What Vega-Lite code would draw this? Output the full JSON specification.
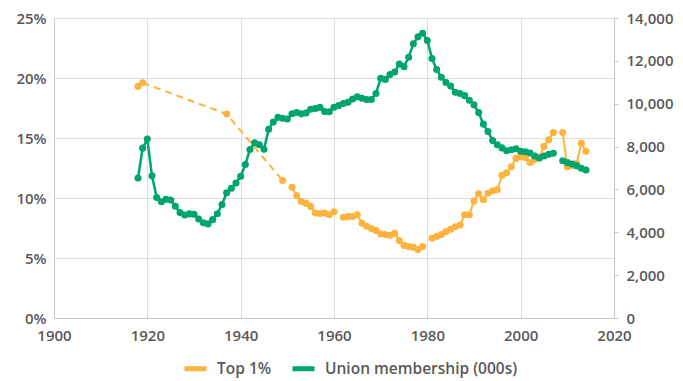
{
  "$schema": "https://vega.github.io/schema/vega-lite/v6.json",
  "width": 560,
  "height": 300,
  "autosize": {"type": "none"},
  "padding": {"left": 54, "top": 18, "right": 69, "bottom": 63},
  "background": "white",
  "config": {
    "view": {"stroke": null},
    "font": "Open Sans",
    "axis": {
      "labelFont": "Open Sans",
      "labelFontSize": 15,
      "labelFontWeight": 600,
      "labelColor": "#595959",
      "labelFlush": false,
      "labelOverlap": false,
      "domainColor": "#c8c8c8",
      "gridColor": "#dcdcdc",
      "gridWidth": 1,
      "tickColor": "#c8c8c8",
      "title": null
    },
    "legend": {
      "labelFont": "Open Sans",
      "labelFontSize": 15.5,
      "labelFontWeight": 600,
      "labelColor": "#595959",
      "labelLimit": 0
    }
  },
  "datasets": {
    "main": [
      {"year": 1918, "top1": 19.3, "union": 6533},
      {"year": 1919, "top1": 19.6, "union": 7926},
      {"year": 1920, "union": 8348},
      {"year": 1921, "union": 6633},
      {"year": 1922, "union": 5625},
      {"year": 1923, "union": 5429},
      {"year": 1924, "union": 5544},
      {"year": 1925, "union": 5506},
      {"year": 1926, "union": 5219},
      {"year": 1927, "union": 4919},
      {"year": 1928, "union": 4806},
      {"year": 1929, "union": 4858},
      {"year": 1930, "union": 4842},
      {"year": 1931, "union": 4624},
      {"year": 1932, "union": 4444},
      {"year": 1933, "union": 4392},
      {"year": 1934, "union": 4590},
      {"year": 1935, "union": 4867},
      {"year": 1936, "union": 5295},
      {"year": 1937, "top1": 17.0, "union": 5842},
      {"year": 1938, "union": 6053},
      {"year": 1939, "union": 6298},
      {"year": 1940, "union": 6613},
      {"year": 1941, "union": 7165},
      {"year": 1942, "union": 7867},
      {"year": 1943, "union": 8174},
      {"year": 1944, "union": 8087},
      {"year": 1945, "union": 7875},
      {"year": 1946, "union": 8803},
      {"year": 1947, "union": 9145},
      {"year": 1948, "union": 9363},
      {"year": 1949, "top1": 11.45, "union": 9318},
      {"year": 1950, "union": 9289},
      {"year": 1951, "top1": 10.9, "union": 9535},
      {"year": 1952, "top1": 10.2, "union": 9588},
      {"year": 1953, "top1": 9.7, "union": 9527},
      {"year": 1954, "top1": 9.55, "union": 9566},
      {"year": 1955, "top1": 9.3, "union": 9741},
      {"year": 1956, "top1": 8.75, "union": 9778},
      {"year": 1957, "top1": 8.7, "union": 9829},
      {"year": 1958, "top1": 8.75, "union": 9639},
      {"year": 1959, "top1": 8.6, "union": 9623},
      {"year": 1960, "top1": 8.85, "union": 9835},
      {"year": 1961, "union": 9916},
      {"year": 1962, "top1": 8.4, "union": 10014},
      {"year": 1963, "top1": 8.45, "union": 10067},
      {"year": 1964, "top1": 8.45, "union": 10218},
      {"year": 1965, "top1": 8.6, "union": 10325},
      {"year": 1966, "top1": 7.9, "union": 10259},
      {"year": 1967, "top1": 7.65, "union": 10194},
      {"year": 1968, "top1": 7.45, "union": 10200},
      {"year": 1969, "top1": 7.3, "union": 10479},
      {"year": 1970, "top1": 7.0, "union": 11187},
      {"year": 1971, "top1": 6.95, "union": 11135},
      {"year": 1972, "top1": 6.9, "union": 11359},
      {"year": 1973, "top1": 7.05, "union": 11480},
      {"year": 1974, "top1": 6.45, "union": 11850},
      {"year": 1975, "top1": 6.05, "union": 11730},
      {"year": 1976, "top1": 5.95, "union": 12170},
      {"year": 1977, "top1": 5.9, "union": 12800},
      {"year": 1978, "top1": 5.7, "union": 13120},
      {"year": 1979, "top1": 5.95, "union": 13289},
      {"year": 1980, "union": 12947},
      {"year": 1981, "top1": 6.65, "union": 12106},
      {"year": 1982, "top1": 6.8, "union": 11593},
      {"year": 1983, "top1": 6.95, "union": 11236},
      {"year": 1984, "top1": 7.2, "union": 10994},
      {"year": 1985, "top1": 7.4, "union": 10821},
      {"year": 1986, "top1": 7.6, "union": 10539},
      {"year": 1987, "top1": 7.75, "union": 10475},
      {"year": 1988, "top1": 8.6, "union": 10376},
      {"year": 1989, "top1": 8.6, "union": 10158},
      {"year": 1990, "top1": 9.75, "union": 9947},
      {"year": 1991, "top1": 10.35, "union": 9585},
      {"year": 1992, "top1": 9.85, "union": 9048},
      {"year": 1993, "top1": 10.4, "union": 8700},
      {"year": 1994, "top1": 10.6, "union": 8278},
      {"year": 1995, "top1": 10.7, "union": 8089},
      {"year": 1996, "top1": 11.9, "union": 7938},
      {"year": 1997, "top1": 12.1, "union": 7801},
      {"year": 1998, "top1": 12.6, "union": 7852},
      {"year": 1999, "top1": 13.3, "union": 7898},
      {"year": 2000, "top1": 13.45, "union": 7779},
      {"year": 2001, "top1": 13.35, "union": 7760},
      {"year": 2002, "top1": 12.95, "union": 7700},
      {"year": 2003, "top1": 13.2, "union": 7560},
      {"year": 2004, "top1": 13.4, "union": 7470},
      {"year": 2005, "top1": 14.3, "union": 7560},
      {"year": 2006, "top1": 14.85, "union": 7640},
      {"year": 2007, "top1": 15.45, "union": 7690},
      {"year": 2008},
      {"year": 2009, "top1": 15.45, "union": 7340},
      {"year": 2010, "top1": 12.6, "union": 7250},
      {"year": 2011, "top1": 12.7, "union": 7190},
      {"year": 2012, "top1": 12.9, "union": 7100},
      {"year": 2013, "top1": 14.55, "union": 6990},
      {"year": 2014, "top1": 13.9, "union": 6910}
    ],
    "bridge": [
      {"year": 1919, "top1": 19.6},
      {"year": 1937, "top1": 17.0},
      {"year": 1949, "top1": 11.45}
    ]
  },
  "data": {"name": "main"},
  "layer": [
    {
      "layer": [
        {
          "data": {"name": "bridge"},
          "mark": {"type": "line", "strokeWidth": 2, "strokeDash": [7, 5]},
          "encoding": {
            "x": {"field": "year", "type": "quantitative", "scale": {"domain": [1900, 2020], "nice": false},
                  "axis": {"values": [1900, 1920, 1940, 1960, 1980, 2000, 2020], "format": "d", "grid": true, "ticks": false, "labelPadding": 10}},
            "y": {"field": "top1", "type": "quantitative", "scale": {"domain": [0, 25], "nice": false},
                  "axis": {"orient": "left", "values": [0, 5, 10, 15, 20, 25], "labelExpr": "datum.value + '%'", "grid": true, "ticks": false, "labelPadding": 8}},
            "color": {"datum": "Top 1%", "type": "nominal"}
          }
        },
        {
          "mark": {"type": "line", "strokeWidth": 2, "invalid": "break-paths-filter-domains", "point": {"filled": true, "size": 50, "opacity": 1}},
          "encoding": {
            "x": {"field": "year", "type": "quantitative", "scale": {"domain": [1900, 2020], "nice": false}},
            "y": {"field": "top1", "type": "quantitative", "scale": {"domain": [0, 25], "nice": false},
                  "axis": {"orient": "left", "values": [0, 5, 10, 15, 20, 25], "labelExpr": "datum.value + '%'", "grid": true, "ticks": false, "labelPadding": 8}},
            "color": {"datum": "Top 1%", "type": "nominal"}
          }
        }
      ]
    },
    {
      "mark": {"type": "line", "strokeWidth": 2.5, "invalid": "break-paths-filter-domains", "point": {"filled": true, "size": 50, "opacity": 1}},
      "encoding": {
        "x": {"field": "year", "type": "quantitative", "scale": {"domain": [1900, 2020], "nice": false}},
        "y": {"field": "union", "type": "quantitative", "scale": {"domain": [0, 14000], "nice": false},
              "axis": {"orient": "right", "values": [0, 2000, 4000, 6000, 8000, 10000, 12000, 14000], "format": ",d", "grid": false, "ticks": true, "tickSize": 4, "labelPadding": 8}},
        "color": {
          "datum": "Union membership (000s)", "type": "nominal",
          "scale": {"domain": ["Top 1%", "Union membership (000s)"], "range": ["#fdb33f", "#00a56e"]},
          "legend": {"orient": "none", "legendX": 128, "legendY": 337, "direction": "horizontal", "title": null,
                     "symbolType": "stroke", "symbolStrokeWidth": 5, "symbolSize": 484, "symbolDash": [1, 0],
                     "labelOffset": 8, "columnPadding": 10}
        }
      }
    }
  ],
  "resolve": {"scale": {"y": "independent"}}
}
